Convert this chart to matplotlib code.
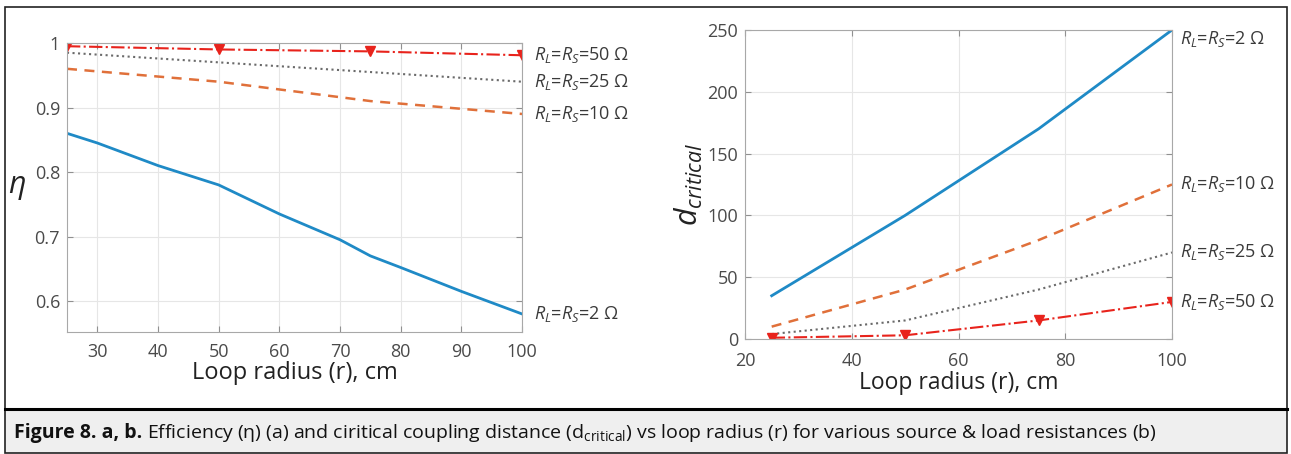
import matplotlib
matplotlib.use("Agg")
import matplotlib.pyplot as plt
from matplotlib.patches import Rectangle
from matplotlib.lines import Line2D

plt.rcParams['font.family'] = ['Open Sans', 'DejaVu Sans']
plt.rcParams['mathtext.fontset'] = 'custom'
plt.rcParams['mathtext.rm'] = 'Open Sans'
plt.rcParams['mathtext.it'] = 'Open Sans:italic'
plt.rcParams['mathtext.bf'] = 'Open Sans:bold'

# Data
r_fine = [25, 30, 40, 50, 60, 70, 75, 80, 90, 100]
eta_2 = [0.86, 0.845, 0.81, 0.78, 0.735, 0.695, 0.67, 0.652, 0.615, 0.58]
r_q = [25, 50, 75, 100]
eta_10 = [0.96, 0.94, 0.91, 0.89]
eta_25 = [0.985, 0.97, 0.955, 0.94]
eta_50 = [0.995, 0.99, 0.987, 0.981]

d_2 = [35, 100, 170, 250]
d_10 = [10, 40, 80, 125]
d_25 = [4, 15, 40, 70]
d_50 = [1, 3, 15, 30]

labels = ["2", "10", "25", "50"]

blue = '#1f8ac6'
orange = '#e0703a'
gray = '#6a6a6a'
red = '#e8231c'
txt = '#3a3a3a'

fig = plt.figure(figsize=(12.91, 4.54), dpi=100)
W, H = 1291, 454

def fx(p):
    return p / W

def fy(p):
    return 1 - p / H

# frame and caption box
fig.patches.append(Rectangle((fx(5), fy(453)), fx(1287) - fx(5), fy(409) - fy(453),
                             transform=fig.transFigure, facecolor='#efefef', edgecolor='none', zorder=0))
fig.add_artist(Rectangle((fx(5), fy(453)), fx(1287) - fx(5), fy(7) - fy(453),
                         transform=fig.transFigure, facecolor='none', edgecolor='#222222', lw=1.2))
fig.add_artist(Line2D([fx(5), fx(1287)], [fy(408.5), fy(408.5)], transform=fig.transFigure,
                      color='black', lw=2.2))


def style(ax, xpad):
    ax.grid(True, color='#e6e6e6', lw=0.8)
    ax.set_axisbelow(True)
    for s in ax.spines.values():
        s.set_color('#a8a8a8')
    ax.tick_params(direction='in', top=True, right=True, color='#909090',
                   labelsize=13, labelcolor='#4a4a4a', length=4)
    ax.tick_params(axis='x', pad=xpad)
    ax.tick_params(axis='y', pad=5)


def lab(s):
    return r"$R_L$=$R_S$=" + s + " Ω"

# (a) efficiency
ax1 = fig.add_axes([fx(67), fy(332), fx(522) - fx(67), fy(43) - fy(332)])
ax1.plot(r_fine, eta_2, color=blue, lw=2)
ax1.plot(r_q, eta_10, color=orange, lw=1.8, ls=(0, (4, 3)))
ax1.plot(r_q, eta_25, color=gray, lw=1.5, ls=':')
ax1.plot(r_q, eta_50, color=red, lw=1.5, ls='-.', marker='v', ms=7, mfc=red, mec=red)
ax1.set_xlim(25, 100)
ax1.set_ylim(0.552, 1.0)
ax1.set_xticks(range(30, 101, 10))
ax1.set_yticks([0.6, 0.7, 0.8, 0.9, 1.0])
ax1.set_yticklabels(['0.6', '0.7', '0.8', '0.9', '1'])
style(ax1, 8)
ax1.set_xlabel("Loop radius (r), cm", fontsize=17, color='#222222', labelpad=0)
ax1.set_ylabel(r"$\eta$", fontsize=22, rotation=0, color='#222222', labelpad=13, va='center')
for yv, s in zip([eta_2[-1], eta_10[-1], eta_25[-1], eta_50[-1]], labels):
    ax1.annotate(lab(s), (100, yv), xytext=(9, 0), textcoords='offset points',
                 va='center', ha='left', fontsize=13, color=txt, annotation_clip=False)

# (b) critical distance
ax2 = fig.add_axes([fx(745), fy(339), fx(1172) - fx(745), fy(30) - fy(339)])
ax2.plot(r_q, d_2, color=blue, lw=2)
ax2.plot(r_q, d_10, color=orange, lw=1.8, ls=(0, (4, 3)))
ax2.plot(r_q, d_25, color=gray, lw=1.5, ls=':')
ax2.plot(r_q, d_50, color=red, lw=1.5, ls='-.', marker='v', ms=7, mfc=red, mec=red)
ax2.set_xlim(20, 100)
ax2.set_ylim(0, 250)
ax2.set_xticks([20, 40, 60, 80, 100])
ax2.set_yticks(range(0, 251, 50))
style(ax2, 9)
ax2.set_xlabel("Loop radius (r), cm", fontsize=16.5, color='#222222', labelpad=1)
ax2.set_ylabel(r"$d_{critical}$", fontsize=22, color='#222222', labelpad=2)
for yv, s in zip([d_2[-1] - 7, d_10[-1], d_25[-1], d_50[-1]], labels):
    ax2.annotate(lab(s), (100, yv), xytext=(6, 0), textcoords='offset points',
                 va='center', ha='left', fontsize=13, color=txt, annotation_clip=False)

# caption: bold lead-in followed by plain text
t1 = fig.text(fx(14), fy(433), "Figure 8. a, b.", fontsize=14, fontweight='bold',
              color='#111111', va='center', ha='left')
fig.canvas.draw()
bb = t1.get_window_extent()
fig.text(bb.x1 / W + fx(5), fy(433),
         r"Efficiency (η) (a) and ciritical coupling distance (d$_{\mathrm{critical}}$) "
         r"vs loop radius (r) for various source & load resistances (b)",
         fontsize=14, color='#111111', va='center', ha='left')

fig.savefig("out.png", dpi=100)
